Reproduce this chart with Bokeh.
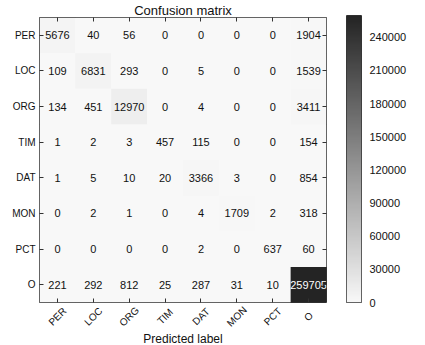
import math
import numpy as np
from bokeh.plotting import figure
from bokeh.layouts import column, row
from bokeh.models import (ColumnDataSource, LinearColorMapper, FixedTicker, Range1d, Title,
                          CategoricalAxis, BasicTickFormatter, CustomJSTickFormatter)
from bokeh.embed import file_html
from bokeh.resources import INLINE
from bokeh.core.properties import value

labels = ["PER", "LOC", "ORG", "TIM", "DAT", "MON", "PCT", "O"]
row_PER = [5676, 40, 56, 0, 0, 0, 0, 1904]
row_LOC = [109, 6831, 293, 0, 5, 0, 0, 1539]
row_ORG = [134, 451, 12970, 0, 4, 0, 0, 3411]
row_TIM = [1, 2, 3, 457, 115, 0, 0, 154]
row_DAT = [1, 5, 10, 20, 3366, 3, 0, 854]
row_MON = [0, 2, 1, 0, 4, 1709, 2, 318]
row_PCT = [0, 0, 0, 0, 2, 0, 637, 60]
row_O = [221, 292, 812, 25, 287, 31, 10, 259705]
matrix = [row_PER, row_LOC, row_ORG, row_TIM, row_DAT, row_MON, row_PCT, row_O]
cbar_ticks = [0, 30000, 60000, 90000, 120000, 150000, 180000, 210000, 240000]

FONT = "Liberation Sans"
INK = "#111111"
EDGE = "#333333"
LEFT, GAP = 39, 20
FRAME = 287
MW = LEFT + FRAME + GAP

def lerp(a, b, t):
    return int(round(a + (b - a) * t))
lo, hi = 0xf8, 0x24
palette = []
for i in range(256):
    g = lerp(lo, hi, i / 255)
    palette.append("#%02x%02x%02x" % (g, g, g))

vmax = max(max(r) for r in matrix)
mapper = LinearColorMapper(palette=palette, low=0, high=vmax)

xs, ys, vals, txt, tcol = [], [], [], [], []
for i, r in enumerate(matrix):
    for j, v in enumerate(r):
        xs.append(labels[j])
        ys.append(labels[i])
        vals.append(v)
        txt.append(str(v))
        tcol.append("white" if v > vmax / 2 else INK)
src = ColumnDataSource(dict(x=xs, y=ys, v=vals, t=txt, c=tcol))

p = figure(x_range=labels, y_range=list(reversed(labels)),
           width=MW, height=303, output_backend="svg", toolbar_location=None,
           min_border_left=LEFT, min_border_right=GAP, min_border_top=15, min_border_bottom=1,
           title="Confusion matrix")
p.title.align = "center"
p.title.text_font = FONT
p.title.text_font_size = "13px"
p.title.text_font_style = "normal"
p.title.text_color = INK
p.title.standoff = 0
p.title.offset = 0

p.rect(x="x", y="y", width=1, height=1, source=src,
       fill_color={"field": "v", "transform": mapper}, line_color=None)
p.text(x="x", y="y", text="t", source=src, text_color="c",
       text_align="center", text_baseline="middle",
       text_font=value(FONT), text_font_size="11px")

p.grid.visible = False
p.outline_line_color = EDGE
p.outline_line_width = 1
p.background_fill_color = "#f8f8f8"

blank_fmt = CustomJSTickFormatter(code="return ''")

for ax in p.axis:
    ax.axis_line_color = None
    ax.major_tick_in = 4
    ax.major_tick_out = 0
    ax.major_tick_line_color = EDGE
    ax.major_label_text_font = FONT
    ax.major_label_text_font_size = "10px"
    ax.major_label_text_color = INK
    ax.major_label_standoff = 4

p.xaxis.formatter = blank_fmt
p.xaxis.major_label_standoff = 0

for loc in ("above", "right"):
    a = CategoricalAxis(axis_line_color=None, major_tick_in=4, major_tick_out=0,
                        major_tick_line_color=EDGE, formatter=blank_fmt,
                        major_label_standoff=0)
    p.add_layout(a, loc)

# strip below the matrix: rotated, centered x tick labels + axis title
p2 = figure(x_range=p.x_range, y_range=["tick"], width=MW, height=345 - 303,
            output_backend="svg", toolbar_location=None,
            x_axis_location=None, y_axis_location=None,
            min_border_left=LEFT, min_border_right=GAP, min_border_top=0, min_border_bottom=0)
p2.text(x=labels, y=["tick"] * len(labels), text=labels, angle=math.pi / 4,
        text_align="center", text_baseline="middle",
        text_font=value(FONT), text_font_size="10px", text_color=INK)
p2.grid.visible = False
p2.outline_line_color = None
p2.add_layout(Title(text="Predicted label", align="center", text_font=FONT,
                    text_font_size="12px", text_font_style="normal", text_color=INK,
                    standoff=0, offset=0), "below")

# colour bar as its own narrow figure
ramp = np.linspace(0, vmax, 256).reshape(256, 1)
pc = figure(width=15 + 50, height=345, x_range=Range1d(0, 1), y_range=Range1d(0, vmax),
            output_backend="svg", toolbar_location=None,
            min_border_left=0, min_border_right=50, min_border_top=15, min_border_bottom=43,
            x_axis_location=None, y_axis_location="right")
pc.image(image=[ramp], x=0, y=0, dw=1, dh=vmax, color_mapper=mapper)
pc.grid.visible = False
pc.outline_line_color = EDGE
pc.yaxis.ticker = FixedTicker(ticks=cbar_ticks)
pc.yaxis.formatter = BasicTickFormatter(use_scientific=False)
pc.yaxis.axis_line_color = None
pc.yaxis.major_tick_line_color = None
pc.yaxis.minor_tick_line_color = None
pc.yaxis.major_label_standoff = 2
pc.yaxis.major_label_text_font = FONT
pc.yaxis.major_label_text_font_size = "11px"
pc.yaxis.major_label_text_color = INK

layout = row(column(p, p2, spacing=0), pc, spacing=0)
open("out.html", "w").write(file_html(layout, INLINE))
